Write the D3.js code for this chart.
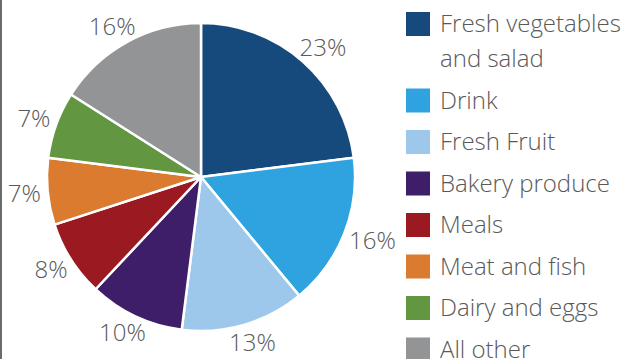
<!DOCTYPE html>
<html>
<head>
<meta charset="utf-8">
<script src="https://cdn.jsdelivr.net/npm/d3@7"></script>
<style>
  html, body { margin: 0; padding: 0; background: #fff; }
  svg { display: block; font-family: "Open Sans", sans-serif; font-weight: 300; }
</style>
</head>
<body>
<svg id="chart"></svg>
<script>
// data
var categories = ["Fresh vegetables and salad", "Drink", "Fresh Fruit", "Bakery produce",
                  "Meals", "Meat and fish", "Dairy and eggs", "All other"];
var shares = [23, 16, 13, 10, 8, 7, 7, 16];
var colours = ["#174a7c", "#2ea3df", "#9dc8ec", "#3f1e69", "#9b1a22", "#db7b2f", "#629641", "#939496"];

var width = 625, height = 359;
var cx = 201, cy = 177, radius = 154, labelGap = 7;

var svg = d3.select("#chart")
  .attr("width", width)
  .attr("height", height);

// left frame edge
svg.append("rect")
  .attr("x", 0).attr("y", 0)
  .attr("width", 2).attr("height", height)
  .attr("fill", "#6b6b6b");

var pie = d3.pie().sort(null).value(d => d);
var arcs = pie(shares);

var arc = d3.arc().innerRadius(0).outerRadius(radius);

var g = svg.append("g").attr("transform", `translate(${cx},${cy})`);

g.selectAll("path")
  .data(arcs)
  .enter()
  .append("path")
  .attr("d", arc)
  .attr("fill", (d, i) => colours[i])
  .attr("stroke", "#fff")
  .attr("stroke-width", 2.5)
  .attr("stroke-linejoin", "round");

// outside-end labels: box pushed outward so its edge sits just past the rim
var labH = 22;
g.selectAll("text")
  .data(arcs)
  .enter()
  .append("text")
  .attr("text-anchor", "middle")
  .attr("dy", "0.35em")
  .attr("font-size", 24)
  .attr("fill", "#595959")
  .text(d => d.data + "%")
  .attr("transform", function (d) {
    var a = (d.startAngle + d.endAngle) / 2;
    var w = this.getComputedTextLength();
    var r = radius + labelGap;
    var x = r * Math.sin(a) + (w / 2) * Math.sin(a);
    var y = -r * Math.cos(a) - (labH / 2) * Math.cos(a);
    return `translate(${x},${y})`;
  });

// legend
var legX = 406, boxSize = 24, textX = 440;
var rowStep = 41.5, lineHeight = 35, maxTextW = 190;
var legend = svg.append("g");
var y = 12;

categories.forEach(function (name, i) {
  var row = legend.append("g").attr("transform", `translate(0,${y})`);
  row.append("rect")
    .attr("x", legX).attr("y", 0)
    .attr("width", boxSize).attr("height", boxSize)
    .attr("fill", colours[i]);

  var text = row.append("text")
    .attr("x", textX)
    .attr("y", boxSize / 2)
    .attr("dy", "0.35em")
    .attr("font-size", 24)
    .attr("fill", "#595959");

  // simple word wrap
  var words = name.split(" ");
  var line = [];
  var lines = 1;
  var tspan = text.append("tspan").attr("x", textX);
  words.forEach(function (w) {
    line.push(w);
    tspan.text(line.join(" "));
    if (tspan.node().getComputedTextLength() > maxTextW && line.length > 1) {
      line.pop();
      tspan.text(line.join(" "));
      line = [w];
      tspan = text.append("tspan").attr("x", textX).attr("dy", lineHeight).text(w);
      lines++;
    }
  });

  y += rowStep + (lines - 1) * lineHeight;
});
</script>
</body>
</html>
